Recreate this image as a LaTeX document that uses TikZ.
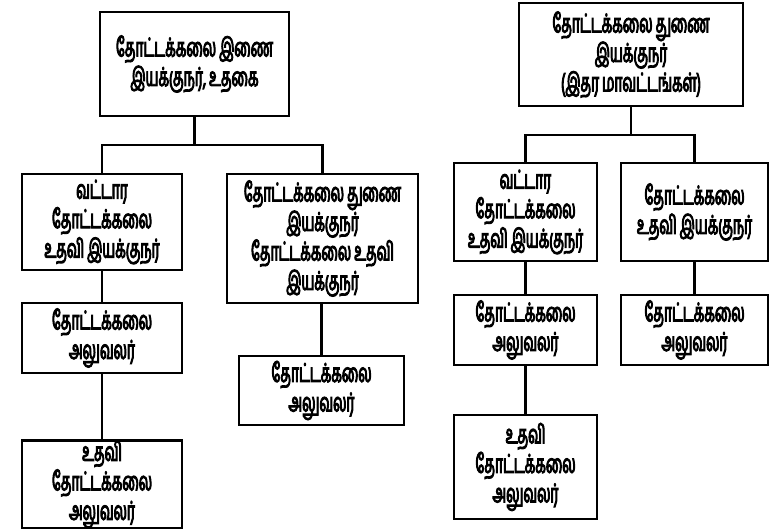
\documentclass[tikz,border=0pt]{standalone}
\usepackage{fontspec}
\newfontfamily\tamil[Script=Tamil, FakeStretch=0.53, FakeBold=3.5, WordSpace=0.9]{Hind Madurai}
\tikzset{
  orgbox/.style={draw, line width=2.5pt, align=center, inner sep=0pt,
    font={\tamil\fontsize{26}{29.5}\selectfont}},
  link/.style={line width=2.5pt}
}
\begin{document}
\begin{tikzpicture}[x=1pt,y=-1pt]
\useasboundingbox (0,0) rectangle (773,529);
% left tree
\node[orgbox, minimum width=189pt, minimum height=104pt] (t1) at (194.5,64) {தோட்டக்கலை இணை\\இயக்குநர், உதகை};
\node[orgbox, minimum width=160pt, minimum height=96pt] (l1) at (102,222) {வட்டார\\தோட்டக்கலை\\உதவி இயக்குநர்};
\node[orgbox, minimum width=191pt, minimum height=129pt] (r1) at (322.5,238.5) {தோட்டக்கலை துணை\\இயக்குநர்\\தோட்டக்கலை உதவி\\இயக்குநர்};
\node[orgbox, minimum width=160pt, minimum height=70pt] (l2) at (102,338) {தோட்டக்கலை\\அலுவலர்};
\node[orgbox, minimum width=160pt, minimum height=85pt] (l3) at (102,484.5) {உதவி\\தோட்டக்கலை\\அலுவலர்};
\node[orgbox, minimum width=165pt, minimum height=69pt] (r2) at (321.5,390.5) {தோட்டக்கலை\\அலுவலர்};
\coordinate (j1) at (t1.south |- 0,145);
\draw[link] (t1.south) -- (j1);
\draw[link] (l1.north) |- (j1) -| (r1.north);
\draw[link] (l1.south) -- (l2.north);
\draw[link] (l2.south) -- (l3.north);
\draw[link] (r1.south -| r2.north) -- (r2.north);
% right tree
\node[orgbox, minimum width=224pt, minimum height=103pt] (t2) at (631,54.5) {தோட்டக்கலை துணை\\இயக்குநர்\\(இதர மாவட்டங்கள்)};
\node[orgbox, minimum width=143pt, minimum height=98pt] (rl1) at (525.5,212) {வட்டார\\தோட்டக்கலை\\உதவி இயக்குநர்};
\node[orgbox, minimum width=147pt, minimum height=98pt] (rr1) at (694.5,212) {தோட்டக்கலை\\உதவி இயக்குநர்};
\node[orgbox, minimum width=143pt, minimum height=70pt] (rl2) at (525.5,330) {தோட்டக்கலை\\அலுவலர்};
\node[orgbox, minimum width=147pt, minimum height=70pt] (rr2) at (694.5,330) {தோட்டக்கலை\\அலுவலர்};
\node[orgbox, minimum width=143pt, minimum height=104pt] (rl3) at (525.5,467) {உதவி\\தோட்டக்கலை\\அலுவலர்};
\coordinate (j2) at (t2.south |- 0,135);
\draw[link] (t2.south) -- (j2);
\draw[link] (rl1.north) |- (j2) -| (rr1.north);
\draw[link] (rl1.south) -- (rl2.north);
\draw[link] (rr1.south) -- (rr2.north);
\draw[link] (rl2.south) -- (rl3.north);
\end{tikzpicture}
\end{document}
